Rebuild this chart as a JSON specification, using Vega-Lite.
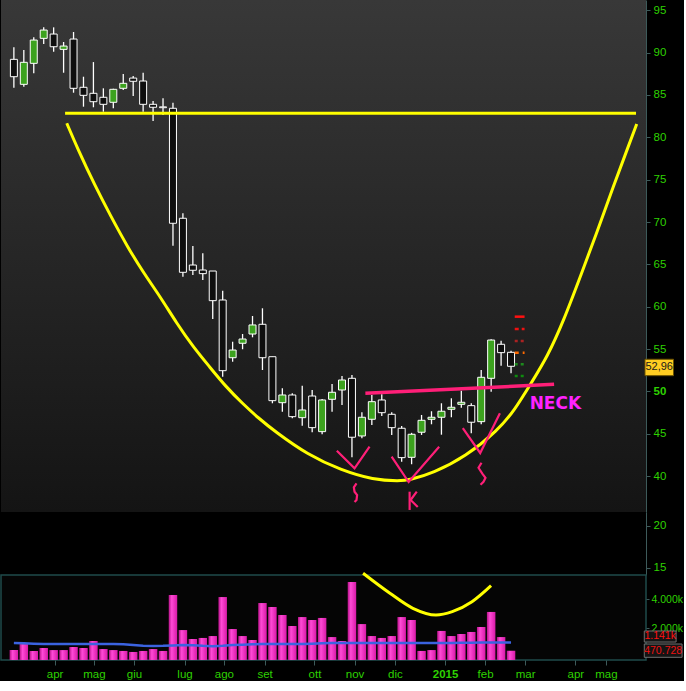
{
 "$schema": "https://vega.github.io/schema/vega-lite/v6.json",
 "background": "#000000",
 "padding": 0,
 "spacing": 0,
 "bounds": "flush",
 "datasets": {
  "weeks": [
   {"w":0,"date":"2014-03-05","o":89.21,"h":90.63,"l":85.86,"c":87.16,"v":0.51,"ma":1.0},
   {"w":1,"date":"2014-03-12","o":86.26,"h":90.31,"l":85.98,"c":88.86,"v":0.92,"ma":0.98},
   {"w":2,"date":"2014-03-19","o":88.74,"h":91.81,"l":87.56,"c":91.49,"v":0.45,"ma":0.95},
   {"w":3,"date":"2014-03-26","o":91.69,"h":92.99,"l":91.02,"c":92.67,"v":0.65,"ma":0.93},
   {"w":4,"date":"2014-04-02","o":92.2,"h":92.99,"l":90.11,"c":90.7,"v":0.51,"ma":0.92},
   {"w":5,"date":"2014-04-09","o":90.39,"h":91.26,"l":87.63,"c":90.78,"v":0.51,"ma":0.92},
   {"w":6,"date":"2014-04-16","o":91.61,"h":92.44,"l":85.27,"c":85.79,"v":0.72,"ma":0.92},
   {"w":7,"date":"2014-04-23","o":85.91,"h":87.16,"l":83.62,"c":84.96,"v":0.65,"ma":0.92},
   {"w":8,"date":"2014-04-30","o":85.2,"h":88.89,"l":83.55,"c":84.21,"v":1.13,"ma":0.93},
   {"w":9,"date":"2014-05-07","o":84.73,"h":85.79,"l":83.03,"c":83.9,"v":0.58,"ma":0.93},
   {"w":10,"date":"2014-05-14","o":84.14,"h":85.75,"l":83.43,"c":85.67,"v":0.51,"ma":0.92},
   {"w":11,"date":"2014-05-21","o":85.79,"h":87.48,"l":85.59,"c":86.38,"v":0.45,"ma":0.9},
   {"w":12,"date":"2014-05-28","o":87.0,"h":87.24,"l":84.88,"c":86.62,"v":0.38,"ma":0.85},
   {"w":13,"date":"2014-06-04","o":86.65,"h":87.63,"l":83.03,"c":83.9,"v":0.45,"ma":0.8},
   {"w":14,"date":"2014-06-11","o":83.9,"h":84.29,"l":81.93,"c":83.55,"v":0.58,"ma":0.79},
   {"w":15,"date":"2014-06-18","o":83.6,"h":84.61,"l":82.64,"c":83.5,"v":0.45,"ma":0.8},
   {"w":16,"date":"2014-06-25","o":83.43,"h":84.09,"l":67.2,"c":69.85,"v":4.28,"ma":0.83},
   {"w":17,"date":"2014-07-02","o":70.44,"h":71.03,"l":63.54,"c":64.06,"v":1.88,"ma":0.86},
   {"w":18,"date":"2014-07-09","o":64.92,"h":67.17,"l":63.74,"c":64.3,"v":1.27,"ma":0.84},
   {"w":19,"date":"2014-07-16","o":64.33,"h":66.3,"l":63.15,"c":63.9,"v":1.34,"ma":0.8},
   {"w":20,"date":"2014-07-23","o":64.21,"h":64.21,"l":58.54,"c":60.71,"v":1.47,"ma":0.78},
   {"w":21,"date":"2014-07-30","o":60.79,"h":61.89,"l":51.73,"c":52.44,"v":4.14,"ma":0.8},
   {"w":22,"date":"2014-08-06","o":53.97,"h":55.86,"l":53.5,"c":54.88,"v":1.95,"ma":0.85},
   {"w":23,"date":"2014-08-13","o":55.68,"h":56.77,"l":54.97,"c":56.18,"v":1.47,"ma":0.88},
   {"w":24,"date":"2014-08-20","o":56.77,"h":58.9,"l":56.38,"c":57.84,"v":1.2,"ma":0.9},
   {"w":25,"date":"2014-08-27","o":57.92,"h":59.81,"l":52.52,"c":53.97,"v":3.73,"ma":0.92},
   {"w":26,"date":"2014-09-03","o":54.09,"h":54.09,"l":48.59,"c":48.9,"v":3.46,"ma":0.92},
   {"w":27,"date":"2014-09-10","o":48.66,"h":50.36,"l":47.6,"c":49.57,"v":2.91,"ma":0.92},
   {"w":28,"date":"2014-09-17","o":49.57,"h":49.77,"l":46.82,"c":47.01,"v":2.16,"ma":0.92},
   {"w":29,"date":"2014-09-24","o":46.89,"h":50.67,"l":45.94,"c":47.8,"v":2.77,"ma":0.92},
   {"w":30,"date":"2014-10-01","o":49.45,"h":50.16,"l":45.17,"c":45.71,"v":2.57,"ma":0.95},
   {"w":31,"date":"2014-10-08","o":45.24,"h":49.1,"l":44.93,"c":48.98,"v":2.71,"ma":0.98},
   {"w":32,"date":"2014-10-15","o":49.06,"h":50.87,"l":47.6,"c":49.89,"v":1.4,"ma":1.0},
   {"w":33,"date":"2014-10-22","o":50.16,"h":51.81,"l":48.39,"c":51.34,"v":1.13,"ma":1.0},
   {"w":34,"date":"2014-10-29","o":51.54,"h":51.93,"l":42.21,"c":44.58,"v":5.17,"ma":1.0},
   {"w":35,"date":"2014-11-05","o":44.73,"h":47.53,"l":44.46,"c":46.94,"v":2.29,"ma":1.0},
   {"w":36,"date":"2014-11-12","o":46.7,"h":49.57,"l":46.03,"c":48.78,"v":1.47,"ma":1.0},
   {"w":37,"date":"2014-11-19","o":48.98,"h":49.65,"l":47.09,"c":47.48,"v":1.34,"ma":1.0},
   {"w":38,"date":"2014-11-26","o":47.29,"h":47.53,"l":44.85,"c":45.71,"v":1.47,"ma":1.0},
   {"w":39,"date":"2014-12-03","o":45.64,"h":45.91,"l":41.69,"c":42.17,"v":2.77,"ma":1.0},
   {"w":40,"date":"2014-12-10","o":42.21,"h":45.1,"l":41.39,"c":44.93,"v":2.57,"ma":1.0},
   {"w":41,"date":"2014-12-17","o":45.17,"h":47.21,"l":44.85,"c":46.58,"v":0.45,"ma":1.0},
   {"w":42,"date":"2014-12-24","o":46.7,"h":47.65,"l":46.11,"c":46.94,"v":0.51,"ma":1.0},
   {"w":43,"date":"2014-12-31","o":46.94,"h":48.59,"l":44.88,"c":47.65,"v":1.82,"ma":1.0},
   {"w":44,"date":"2015-01-07","o":47.88,"h":49.18,"l":46.94,"c":48.12,"v":1.47,"ma":1.0},
   {"w":45,"date":"2015-01-14","o":48.47,"h":50.08,"l":48.07,"c":48.71,"v":1.61,"ma":1.01},
   {"w":46,"date":"2015-01-21","o":48.31,"h":48.59,"l":45.05,"c":46.35,"v":1.75,"ma":1.01},
   {"w":47,"date":"2015-01-28","o":46.42,"h":52.52,"l":46.11,"c":51.66,"v":2.09,"ma":1.02},
   {"w":48,"date":"2015-02-04","o":51.54,"h":56.15,"l":49.96,"c":56.06,"v":3.12,"ma":1.02},
   {"w":49,"date":"2015-02-11","o":55.56,"h":55.98,"l":53.03,"c":54.57,"v":1.4,"ma":1.02},
   {"w":50,"date":"2015-02-18","o":54.61,"h":54.8,"l":52.13,"c":52.96,"v":0.47,"ma":1.02}
  ],
  "hline": [{"w1":5.15,"w2":62.57,"p":82.84}],
  "cup": [
   {"w":5.32,"p":81.66},{"w":6.47,"p":78.5},{"w":8.12,"p":74.37},{"w":9.77,"p":70.63},
   {"w":11.42,"p":67.08},{"w":13.07,"p":63.94},{"w":14.72,"p":61.18},{"w":16.37,"p":58.04},
   {"w":18.02,"p":55.27},{"w":19.67,"p":52.91},{"w":21.32,"p":50.55},{"w":22.97,"p":48.59},
   {"w":24.62,"p":46.82},{"w":26.27,"p":45.24},{"w":29.57,"p":42.49},{"w":32.87,"p":40.71},
   {"w":36.17,"p":39.53},{"w":38.81,"p":39.41},{"w":39.8,"p":39.53},{"w":42.11,"p":40.32},
   {"w":45.42,"p":42.28},{"w":48.71,"p":45.43},{"w":50.37,"p":47.8},{"w":52.01,"p":50.95},
   {"w":53.66,"p":54.09},{"w":55.32,"p":58.43},{"w":56.96,"p":63.54},{"w":58.61,"p":68.67},
   {"w":60.27,"p":74.17},{"w":61.91,"p":79.29},{"w":62.64,"p":81.57}
  ],
  "neck": [{"w":35.35,"p":49.77},{"w":54.33,"p":50.83}],
  "strokes": [
   {"g":"V1","i":0,"w":32.48,"p":42.99},{"g":"V1","i":1,"w":34.26,"p":40.91},{"g":"V1","i":2,"w":35.77,"p":43.46},
   {"g":"S1","i":0,"w":34.46,"p":39.14},{"g":"S1","i":1,"w":34.19,"p":38.67},{"g":"S1","i":2,"w":34.26,"p":38.15},
   {"g":"S1","i":3,"w":34.52,"p":37.76},{"g":"S1","i":4,"w":34.46,"p":37.17},{"g":"S1","i":5,"w":34.26,"p":36.93},
   {"g":"V2","i":0,"w":37.99,"p":42.28},{"g":"V2","i":1,"w":39.7,"p":39.29},{"g":"V2","i":2,"w":42.77,"p":43.46},
   {"g":"K1","i":0,"w":39.8,"p":38.15},{"g":"K1","i":1,"w":39.8,"p":35.99},
   {"g":"K2","i":0,"w":40.52,"p":38.15},{"g":"K2","i":1,"w":39.9,"p":37.17},{"g":"K2","i":2,"w":40.62,"p":36.33},
   {"g":"V3","i":0,"w":45.15,"p":45.67},{"g":"V3","i":1,"w":46.9,"p":42.72},{"g":"V3","i":2,"w":48.88,"p":47.41},
   {"g":"S3","i":0,"w":47.03,"p":41.56},{"g":"S3","i":1,"w":46.73,"p":40.97},{"g":"S3","i":2,"w":47.13,"p":40.26},
   {"g":"S3","i":3,"w":47.43,"p":39.79},{"g":"S3","i":4,"w":47.23,"p":39.32},{"g":"S3","i":5,"w":46.93,"p":38.97}
  ],
  "levels": [
   {"lvl":"R3","p":58.82},{"lvl":"R2","p":57.36},{"lvl":"R1","p":55.95},
   {"lvl":"PP","p":54.57},{"lvl":"S1","p":53.2},{"lvl":"S2","p":51.82}
  ],
  "necktext": [{"t":"NECK","w":54.46,"p":48.51}],
  "lastprice": [{"t":"52,96","w1":63.47,"w2":66.34,"p1":51.85,"p2":53.79,"w":64.9,"p":52.82}],
  "volcup": [
   {"w":35.12,"v":5.77},{"w":37.82,"v":4.4},{"w":40.13,"v":3.37},{"w":42.45,"v":2.91},
   {"w":44.09,"v":3.14},{"w":46.07,"v":3.82},{"w":47.99,"v":4.92}
  ],
  "vollabels": [
   {"t":"1.141k","k":"ma","w1":63.4,"w2":66.6,"v1":1.06,"v2":1.815,"w":65.0,"v":1.44},
   {"t":"470.728","k":"vol","w1":63.4,"w2":67.2,"v1":0.014,"v2":0.925,"w":65.3,"v":0.47}
  ]
 },
 "vconcat": [
  {
   "width": 645,
   "height": 512,
   "view": {"fill": {"gradient": "linear", "x1": 0, "y1": 0, "x2": 0, "y2": 1, "stops": [{"offset": 0, "color": "#383838"}, {"offset": 1, "color": "#141414"}]}, "stroke": null},
   "layer": [
    {
     "data": {"name": "weeks"},
     "mark": {"type": "rule", "color": "#ffffff", "strokeWidth": 1.3},
     "encoding": {
      "x": {"field": "w", "type": "quantitative", "title": null, "scale": {"domain": [-0.792, 63.07], "nice": false, "zero": false}, "axis": null},
      "y": {"field": "l", "type": "quantitative", "title": null, "scale": {"domain": [35.75, 96.22], "nice": false, "zero": false},
       "axis": {"orient": "right", "values": [40,45,50,55,60,65,70,75,80,85,90,95], "grid": false, "domainColor": "#3d5a5a", "tickColor": "#3d5a5a", "tickSize": 4, "labelPadding": 3, "labelColor": "#2ed200", "labelFontSize": 11.5, "labelFont": "Liberation Sans",
        "labelFontWeight": {"condition": {"test": "datum.value == 50", "value": "bold"}, "value": "normal"}}},
      "y2": {"field": "h"}
     }
    },
    {
     "data": {"name": "weeks"},
     "mark": {"type": "bar", "size": 7, "stroke": "#ffffff", "strokeWidth": 1},
     "encoding": {
      "x": {"field": "w", "type": "quantitative", "title": null},
      "y": {"field": "o", "type": "quantitative", "title": null},
      "y2": {"field": "c"},
      "fill": {"condition": {"test": "datum.c >= datum.o", "value": "#3ca21e"}, "value": "#0e0e0e"}
     }
    },
    {
     "data": {"name": "levels"},
     "mark": {"type": "rule"},
     "encoding": {
      "x": {"datum": 50.37, "type": "quantitative", "title": null},
      "x2": {"datum": 51.36},
      "y": {"field": "p", "type": "quantitative", "title": null},
      "color": {"field": "lvl", "type": "nominal", "legend": null, "scale": {"domain": ["R3","R2","R1","PP","S1","S2"], "range": ["#ff1010","#ee1111","#aa2222","#ff6a00","#1d8a1d","#0f8a0f"]}},
      "strokeDash": {"field": "lvl", "type": "nominal", "legend": null, "scale": {"domain": ["R3","R2","R1","PP","S1","S2"], "range": [[10,0],[4,3],[3,3],[4,4],[3,3],[3,3]]}},
      "strokeWidth": {"field": "lvl", "type": "nominal", "legend": null, "scale": {"domain": ["R3","R2","R1","PP","S1","S2"], "range": [2.5,2.5,1.2,2.5,1.2,2.5]}}
     }
    },
    {
     "data": {"name": "hline"},
     "mark": {"type": "rule", "color": "#ffff00", "strokeWidth": 3},
     "encoding": {
      "x": {"field": "w1", "type": "quantitative", "title": null},
      "x2": {"field": "w2"},
      "y": {"field": "p", "type": "quantitative", "title": null}
     }
    },
    {
     "data": {"name": "cup"},
     "mark": {"type": "line", "color": "#ffff00", "strokeWidth": 3, "interpolate": "basis"},
     "encoding": {
      "x": {"field": "w", "type": "quantitative", "title": null},
      "y": {"field": "p", "type": "quantitative", "title": null}
     }
    },
    {
     "data": {"name": "neck"},
     "mark": {"type": "line", "color": "#ff1f78", "strokeWidth": 3.5},
     "encoding": {
      "x": {"field": "w", "type": "quantitative", "title": null},
      "y": {"field": "p", "type": "quantitative", "title": null}
     }
    },
    {
     "data": {"name": "strokes"},
     "mark": {"type": "line", "color": "#ff1f78", "strokeWidth": 2.2},
     "encoding": {
      "x": {"field": "w", "type": "quantitative", "title": null},
      "y": {"field": "p", "type": "quantitative", "title": null},
      "detail": {"field": "g", "type": "nominal"},
      "order": {"field": "i", "type": "quantitative"}
     }
    },
    {
     "data": {"name": "necktext"},
     "mark": {"type": "text", "color": "#ff22ff", "font": "DejaVu Sans", "fontSize": 17, "fontWeight": "bold", "align": "center", "baseline": "middle"},
     "encoding": {
      "x": {"field": "w", "type": "quantitative", "title": null},
      "y": {"field": "p", "type": "quantitative", "title": null},
      "text": {"field": "t"}
     }
    },
    {
     "data": {"name": "lastprice"},
     "mark": {"type": "rect", "fill": "#ffcc22", "stroke": "#6b5200", "strokeWidth": 1},
     "encoding": {
      "x": {"field": "w1", "type": "quantitative", "title": null},
      "x2": {"field": "w2"},
      "y": {"field": "p1", "type": "quantitative", "title": null},
      "y2": {"field": "p2"}
     }
    },
    {
     "data": {"name": "lastprice"},
     "mark": {"type": "text", "color": "#1a1a1a", "font": "Liberation Sans", "fontSize": 11, "align": "center", "baseline": "middle"},
     "encoding": {
      "x": {"field": "w", "type": "quantitative", "title": null},
      "y": {"field": "p", "type": "quantitative", "title": null},
      "text": {"field": "t"}
     }
    }
   ]
  },
  {
   "width": 645,
   "height": 63,
   "view": {"fill": "#000000", "stroke": null},
   "data": {"values": []},
   "mark": "point",
   "encoding": {
    "y": {"field": "p", "type": "quantitative", "title": null, "scale": {"domain": [14.15, 21.6], "nice": false, "zero": false},
     "axis": {"orient": "right", "values": [15, 20], "grid": false, "domainColor": "#3d5a5a", "tickColor": "#3d5a5a", "tickSize": 4, "labelPadding": 3, "labelColor": "#2ed200", "labelFontSize": 11.5, "labelFont": "Liberation Sans"}}
   }
  },
  {
   "width": 645,
   "height": 85,
   "view": {"fill": "#050505", "stroke": "#1f4b4b", "strokeWidth": 1.5},
   "layer": [
    {
     "data": {"name": "weeks"},
     "mark": {"type": "bar", "size": 8.5, "fill": {"gradient": "linear", "x1": 0, "y1": 0, "x2": 1, "y2": 0, "stops": [{"offset": 0, "color": "#b8128a"}, {"offset": 0.35, "color": "#ff4ad6"}, {"offset": 1, "color": "#d81aa8"}]}},
     "encoding": {
      "x": {"field": "w", "type": "quantitative", "title": null, "scale": {"domain": [-0.792, 63.07], "nice": false, "zero": false},
       "axis": {"values": [4.09, 8.05, 12.08, 17.16, 21.12, 25.22, 30.23, 34.26, 38.32, 43.37, 47.39, 51.42, 56.47, 59.54],
        "labelExpr": "datum.value < 6 ? 'apr' : datum.value < 10 ? 'mag' : datum.value < 15 ? 'giu' : datum.value < 19 ? 'lug' : datum.value < 23 ? 'ago' : datum.value < 28 ? 'set' : datum.value < 32 ? 'ott' : datum.value < 36 ? 'nov' : datum.value < 40 ? 'dic' : datum.value < 45 ? '2015' : datum.value < 49 ? 'feb' : datum.value < 54 ? 'mar' : datum.value < 58 ? 'apr' : 'mag'",
        "domain": false, "grid": false, "tickColor": "#3d5a5a", "tickSize": 5, "labelPadding": 3, "labelColor": "#2ed200", "labelFontSize": 11.5, "labelFont": "Liberation Sans", "labelFlush": false, "labelOverlap": false,
        "labelFontWeight": {"condition": {"test": "datum.value > 42 && datum.value < 45", "value": "bold"}, "value": "normal"}}},
      "y": {"field": "v", "type": "quantitative", "title": null, "scale": {"domain": [-0.17, 5.65], "nice": false, "zero": false},
       "axis": {"orient": "right", "values": [2, 4], "labelExpr": "datum.value == 2 ? '2.000k' : '4.000k'", "domain": false, "grid": false, "tickColor": "#3d5a5a", "tickSize": 3, "labelPadding": 2, "labelColor": "#2ed200", "labelFontSize": 10.5, "labelFont": "Liberation Sans"}},
      "y2": {"datum": -0.17}
     }
    },
    {
     "data": {"name": "weeks"},
     "mark": {"type": "line", "color": "#3b63e0", "strokeWidth": 2.5},
     "encoding": {
      "x": {"field": "w", "type": "quantitative", "title": null},
      "y": {"field": "ma", "type": "quantitative", "title": null}
     }
    },
    {
     "data": {"name": "volcup"},
     "mark": {"type": "line", "color": "#ffff00", "strokeWidth": 3, "interpolate": "monotone"},
     "encoding": {
      "x": {"field": "w", "type": "quantitative", "title": null},
      "y": {"field": "v", "type": "quantitative", "title": null}
     }
    },
    {
     "data": {"name": "vollabels"},
     "mark": {"type": "rect", "fill": "#141414", "stroke": "#707070", "strokeWidth": 1},
     "encoding": {
      "x": {"field": "w1", "type": "quantitative", "title": null},
      "x2": {"field": "w2"},
      "y": {"field": "v1", "type": "quantitative", "title": null},
      "y2": {"field": "v2"}
     }
    },
    {
     "data": {"name": "vollabels"},
     "mark": {"type": "text", "font": "Liberation Sans", "fontSize": 10.5, "align": "center", "baseline": "middle"},
     "encoding": {
      "x": {"field": "w", "type": "quantitative", "title": null},
      "y": {"field": "v", "type": "quantitative", "title": null},
      "text": {"field": "t"},
      "color": {"field": "k", "type": "nominal", "legend": null, "scale": {"domain": ["ma", "vol"], "range": ["#3b63ff", "#ee22bb"]}}
     }
    }
   ]
  }
 ],
 "config": {
  "view": {"stroke": null},
  "axis": {"grid": false}
 }
}
